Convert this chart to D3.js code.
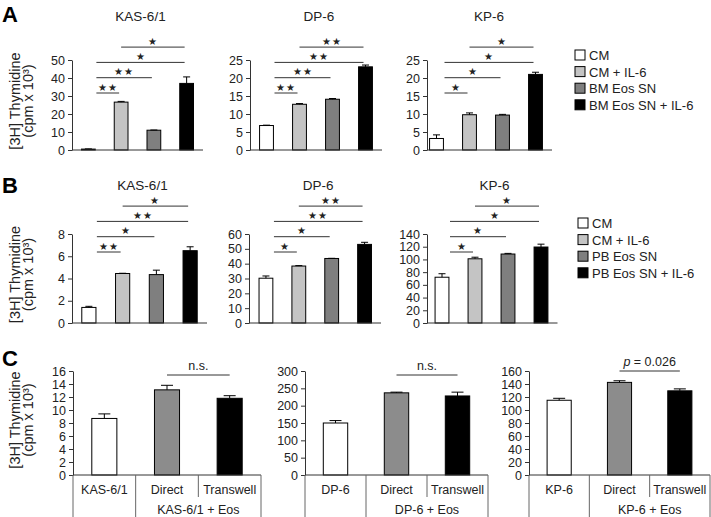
<!DOCTYPE html>
<html>
<head>
<meta charset="utf-8">
<script src="https://cdn.jsdelivr.net/npm/d3@7"></script>
<style>
  body { margin: 0; background: #fff; }
  text { font-family: Arial, "Liberation Sans", sans-serif; fill: #222; }
</style>
</head>
<body>
<svg id="fig"></svg>
<script>
// ---- data ----
const cellLines = ['KAS-6/1', 'DP-6', 'KP-6']
const bmLegend = ['CM', 'CM + IL-6', 'BM Eos SN', 'BM Eos SN + IL-6']
const pbLegend = ['CM', 'CM + IL-6', 'PB Eos SN', 'PB Eos SN + IL-6']

// panel A (BM eosinophil supernatant)
const bmMeans = [[0.5, 26.6, 11.0, 37.0], [6.8, 12.7, 14.1, 23.1], [3.2, 9.8, 9.7, 21.0]]
const bmErrs = [[0.1, 0.4, 0.1, 3.6], [0.1, 0.2, 0.2, 0.5], [1.0, 0.5, 0.2, 0.6]]
const bmMax = [50, 25, 25]
const bmStep = [10, 5, 5]
const bmStars = [['**', '**', '*', '*'], ['**', '**', '**', '**'], ['*', '*', '*', '*']]

// panel B (PB eosinophil supernatant)
const pbMeans = [[1.4, 4.45, 4.35, 6.5], [30.2, 38.4, 43.5, 53.0], [72, 101, 108.5, 119.5]]
const pbErrs = [[0.1, 0.02, 0.4, 0.35], [1.5, 0.3, 0.1, 1.4], [5.5, 2.5, 1.0, 4.5]]
const pbMax = [8, 60, 140]
const pbStep = [2, 10, 20]
const pbStars = [['**', '*', '**', '*'], ['*', '*', '**', '**'], ['*', '*', '*', '*']]

// comparisons drawn above the bars, lowest first
const pairs = [[0, 1], [0, 2], [0, 3], [1, 3]]

// panel C (co-culture)
const eosCats = [['KAS-6/1', 'Direct', 'Transwell'], ['DP-6', 'Direct', 'Transwell'], ['KP-6', 'Direct', 'Transwell']]
const eosGroups = ['KAS-6/1 + Eos', 'DP-6 + Eos', 'KP-6 + Eos']
const eosMeans = [[8.7, 13.1, 11.8], [150, 237, 228], [115, 142.5, 129.5]]
const eosErrs = [[0.7, 0.7, 0.4], [7, 2, 11], [3, 2.5, 3]]
const eosMax = [16, 300, 160]
const eosStep = [2, 50, 20]
const eosNotes = ['n.s.', 'n.s.', 'p = 0.026']

const fourColors = ['#ffffff', '#c4c4c4', '#7f7f7f', '#000000']
const threeColors = ['#ffffff', '#8c8c8c', '#000000']

// ---- layout ----
const W = 711, H = 517
const svg = d3.select('#fig').attr('width', W).attr('height', H)
svg.append('rect').attr('width', W).attr('height', H).attr('fill', '#fff')

const rowA = { top: 60, bottom: 150, titleY: 21, sigY: 93, legendX: 575, legendY: 55,
  axisX: [72, 250, 427], ranges: [[72, 203], [250, 382], [420, 552]] }
const rowB = { top: 234, bottom: 323, titleY: 190, sigY: 252, legendX: 578, legendY: 223,
  axisX: [72, 249, 427], ranges: [[72, 207], [249.5, 381], [425.5, 557.5]] }
const rowC = { top: 371, bottom: 475, axisX: [73, 305, 529], ranges: [[73, 261], [305, 488], [529, 710]] }

function yAxis(g, y, max, step) {
  const ax = d3.axisLeft(y).tickValues(d3.range(0, max + step / 2, step))
    .tickSize(4).tickSizeOuter(0).tickPadding(3)
  g.call(ax)
  g.selectAll('text').attr('font-size', 12.5).attr('fill', '#222')
  g.selectAll('line, path').attr('stroke', '#333')
}

function yLabel(cy) {
  const g = svg.append('g')
  g.append('text').attr('transform', `translate(15,${cy}) rotate(-90)`)
    .attr('text-anchor', 'middle').attr('dominant-baseline', 'central')
    .attr('font-size', 14.5).text('[3H] Thymidine')
  g.append('text').attr('transform', `translate(28,${cy}) rotate(-90)`)
    .attr('text-anchor', 'middle').attr('dominant-baseline', 'central')
    .attr('font-size', 14.5).text('(cpm x 10\u00b3)')
}

function errBars(g, x, y, means, errs, capW) {
  g.selectAll('.err').data(means).join('g').each(function (d, i) {
    const cx = x(i) + x.bandwidth() / 2
    const s = d3.select(this)
    s.append('line').attr('x1', cx).attr('x2', cx)
      .attr('y1', y(d)).attr('y2', y(d + errs[i])).attr('stroke', '#000')
    s.append('line').attr('x1', cx - capW / 2).attr('x2', cx + capW / 2)
      .attr('y1', y(d + errs[i])).attr('y2', y(d + errs[i])).attr('stroke', '#000')
  })
}

function rowPanels(row, means, errs, maxs, steps, stars, legend) {
  cellLines.forEach((name, k) => {
    const g = svg.append('g')
    const x = d3.scaleBand().domain(d3.range(4)).range(row.ranges[k]).paddingInner(0.58).paddingOuter(0.29)
    const y = d3.scaleLinear().domain([0, maxs[k]]).range([row.bottom, row.top])
    const cx = i => x(i) + x.bandwidth() / 2

    g.append('text').attr('x', (row.ranges[k][0] + row.ranges[k][1]) / 2 + 3).attr('y', row.titleY)
      .attr('text-anchor', 'middle').attr('font-size', 13.5).text(name)

    g.selectAll('rect.bar').data(means[k]).join('rect').attr('class', 'bar')
      .attr('x', (d, i) => x(i)).attr('width', x.bandwidth())
      .attr('y', d => y(d)).attr('height', d => y(0) - y(d))
      .attr('fill', (d, i) => fourColors[i]).attr('stroke', '#000').attr('stroke-width', 1)
    errBars(g, x, y, means[k], errs[k], 7)

    yAxis(g.append('g').attr('transform', `translate(${row.axisX[k]},0)`), y, maxs[k], steps[k])
    g.append('line').attr('x1', row.axisX[k]).attr('x2', row.ranges[k][1])
      .attr('y1', y(0)).attr('y2', y(0)).attr('stroke', '#333')

    // significance brackets
    pairs.forEach(([a, b], lvl) => {
      const x1 = a === 0 ? cx(a) + 8 : cx(a), x2 = cx(b) - 2
      const ly = row.sigY - lvl * 15.3
      g.append('line').attr('x1', x1).attr('x2', x2).attr('y1', ly).attr('y2', ly)
        .attr('stroke', '#333').attr('stroke-width', 1)
      g.append('text').attr('x', (x1 + x2) / 2).attr('y', ly - 2.5).attr('text-anchor', 'middle')
        .attr('font-size', 9.5).attr('font-family', 'DejaVu Sans').attr('letter-spacing', 1)
        .text(stars[k][lvl].replace(/\*/g, '\u2605'))
    })
  })

  const lg = svg.append('g').attr('transform', `translate(${row.legendX},${row.legendY})`)
  legend.forEach((lab, i) => {
    lg.append('rect').attr('x', 0).attr('y', i * 16.6 - 5).attr('width', 10).attr('height', 10)
      .attr('fill', fourColors[i]).attr('stroke', '#000')
    lg.append('text').attr('x', 14).attr('y', i * 16.6 + 5).attr('font-size', 13).text(lab)
  })
  yLabel((row.top + row.bottom) / 2 - 4)
}

rowPanels(rowA, bmMeans, bmErrs, bmMax, bmStep, bmStars, bmLegend)
rowPanels(rowB, pbMeans, pbErrs, pbMax, pbStep, pbStars, pbLegend)

// panel C
cellLines.forEach((name, k) => {
  const g = svg.append('g')
  const r = rowC.ranges[k]
  const x = d3.scaleBand().domain(d3.range(3)).range(r).paddingInner(0.6).paddingOuter(0.3)
  const y = d3.scaleLinear().domain([0, eosMax[k]]).range([rowC.bottom, rowC.top])
  const cx = i => x(i) + x.bandwidth() / 2
  const step = x.step()

  g.selectAll('rect.bar').data(eosMeans[k]).join('rect').attr('class', 'bar')
    .attr('x', (d, i) => x(i)).attr('width', x.bandwidth())
    .attr('y', d => y(d)).attr('height', d => y(0) - y(d))
    .attr('fill', (d, i) => threeColors[i]).attr('stroke', '#000')
  errBars(g, x, y, eosMeans[k], eosErrs[k], 12)

  yAxis(g.append('g').attr('transform', `translate(${rowC.axisX[k]},0)`), y, eosMax[k], eosStep[k])

  // two-level category axis
  const base = y(0)
  g.append('line').attr('x1', r[0]).attr('x2', r[1]).attr('y1', base).attr('y2', base).attr('stroke', '#333')
  ;[[r[0], H], [cx(0) + step / 2, H], [cx(1) + step / 2, base + 22], [r[1], H]].forEach(([vx, vy]) => {
    g.append('line').attr('x1', vx).attr('x2', vx).attr('y1', base).attr('y2', vy).attr('stroke', '#666')
  })
  eosCats[k].forEach((c, i) => {
    g.append('text').attr('x', cx(i)).attr('y', base + 19).attr('text-anchor', 'middle')
      .attr('font-size', 12.5).text(c)
  })
  g.append('text').attr('x', cx(1) + step / 2).attr('y', base + 39).attr('text-anchor', 'middle')
    .attr('font-size', 12.5).text(eosGroups[k])

  // Direct vs Transwell comparison
  const ly = k === 2 ? 371 : 375
  g.append('line').attr('x1', cx(1)).attr('x2', cx(2)).attr('y1', ly).attr('y2', ly).attr('stroke', '#333')
  const note = g.append('text').attr('x', (cx(1) + cx(2)) / 2).attr('y', ly - 5)
    .attr('text-anchor', 'middle').attr('font-size', 12.5)
  if (eosNotes[k].startsWith('p')) {
    note.append('tspan').attr('font-style', 'italic').text('p')
    note.append('tspan').text(eosNotes[k].slice(1))
  } else note.text(eosNotes[k])
})
yLabel((rowC.top + rowC.bottom) / 2 - 3)

// panel letters
;[['A', 22], ['B', 193], ['C', 366]].forEach(([l, ly]) => {
  svg.append('text').attr('x', 2).attr('y', ly).attr('font-size', 22).attr('font-weight', 'bold')
    .style('fill', '#000').text(l)
})
</script>
</body>
</html>
